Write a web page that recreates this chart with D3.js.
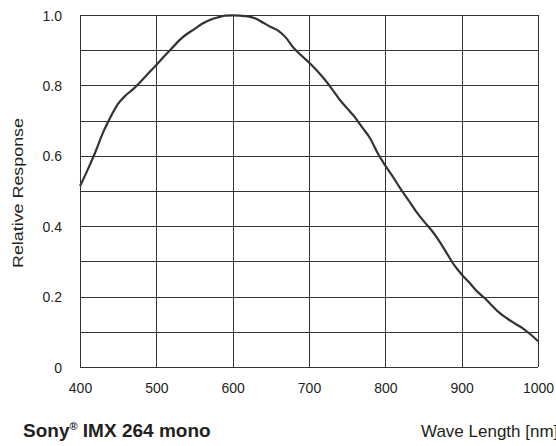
<!DOCTYPE html>
<html><head><meta charset="utf-8">
<script src="https://cdn.jsdelivr.net/npm/d3@7"></script>
<style>body{margin:0;background:#fff}svg{display:block}text{font-family:"Liberation Sans",Arial,sans-serif;fill:#231f20}</style>
</head><body><svg id="c" width="556" height="446"></svg>
<script>
const wavelengths = [400,410,420,430,440,450,460,470,480,490,500,510,520,530,540,550,560,570,580,590,600,610,620,630,640,650,660,670,680,690,700,710,720,730,740,750,760,770,780,790,800,810,820,830,840,850,860,870,880,890,900,910,920,930,940,950,960,970,980,990,1000];
const response = [0.514,0.56,0.61,0.665,0.71,0.748,0.772,0.79,0.812,0.835,0.858,0.882,0.905,0.928,0.946,0.96,0.975,0.986,0.993,0.998,0.999,0.998,0.996,0.99,0.978,0.966,0.955,0.935,0.906,0.885,0.865,0.843,0.818,0.79,0.76,0.735,0.71,0.68,0.65,0.607,0.572,0.54,0.506,0.475,0.443,0.415,0.39,0.36,0.325,0.29,0.263,0.24,0.215,0.196,0.174,0.153,0.137,0.123,0.11,0.093,0.073];
const xTicks = [400,500,600,700,800,900,1000];
const yTicks = [0,0.2,0.4,0.6,0.8,1.0];
const yGrid = [0,0.1,0.2,0.3,0.4,0.5,0.6,0.7,0.8,0.9,1.0];
const yTickLabels = ["0","0.2","0.4","0.6","0.8","1.0"];
const title = "Sony";
const titleRest = " IMX 264 mono";
const xLabel = "Wave Length [nm]";
const yLabel = "Relative Response";

const svg = d3.select("#c");
const L=80,R=538,T=15,B=367;
const x = d3.scaleLinear().domain([400,1000]).range([L,R]);
const y = d3.scaleLinear().domain([0,1]).range([B,T]);

const g = svg.append("g");
g.selectAll(".vg").data(xTicks).join("line")
  .attr("x1",d=>Math.round(x(d))+0.5).attr("x2",d=>Math.round(x(d))+0.5)
  .attr("y1",T).attr("y2",B).attr("stroke","#333333").attr("stroke-width",1);
g.selectAll(".hg").data(yGrid).join("line")
  .attr("y1",d=>Math.round(y(d))+0.5).attr("y2",d=>Math.round(y(d))+0.5)
  .attr("x1",L).attr("x2",R).attr("stroke","#333333").attr("stroke-width",1);

const xAxis = d3.axisBottom(x).tickValues(xTicks).tickSize(0).tickPadding(0).tickFormat(d3.format("d"));
const xa = svg.append("g").attr("transform",`translate(0,${B})`).call(xAxis);
xa.select(".domain").remove();
xa.selectAll("text").attr("dy",null).attr("y",26).style("font-size","14px").style("font-family","Liberation Sans, Arial, sans-serif").attr("fill","#231f20");

const yAxis = d3.axisLeft(y).tickValues(yTicks).tickSize(0).tickPadding(0).tickFormat((d,i)=>yTickLabels[i]);
const ya = svg.append("g").attr("transform",`translate(${L},0)`).call(yAxis);
ya.select(".domain").remove();
ya.selectAll("text").attr("x",-18).attr("dy","0.36em").style("font-size","14px").style("font-family","Liberation Sans, Arial, sans-serif").attr("fill","#231f20");

const line = d3.line().x((d,i)=>x(wavelengths[i])).y(d=>y(d)).curve(d3.curveMonotoneX);
svg.append("path").datum(response).attr("d",line).attr("fill","none").attr("stroke","#333333").attr("stroke-width",2.2).attr("stroke-linejoin","round");

svg.append("text").attr("transform","translate(23,193) rotate(-90)").attr("text-anchor","middle").style("font-size","15px").attr("textLength",150).attr("lengthAdjust","spacingAndGlyphs").text(yLabel);

const t = svg.append("text").attr("x",23).attr("y",437).style("font-size","19px").style("font-weight","bold");
t.append("tspan").text(title);
t.append("tspan").text("®").style("font-size","11px").attr("dy",-7);
t.append("tspan").text(titleRest).attr("dy",7);

svg.append("text").attr("x",421).attr("y",437).style("font-size","17px").text(xLabel);
</script></body></html>
